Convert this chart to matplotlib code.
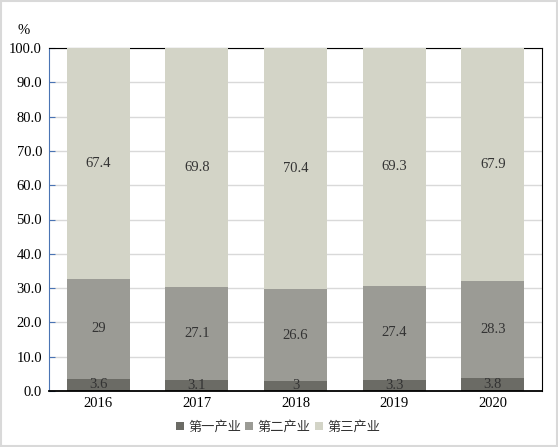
import numpy as np
import matplotlib.pyplot as plt
from matplotlib.patches import Rectangle

years = ['2016', '2017', '2018', '2019', '2020']
primary = [3.6, 3.1, 3, 3.3, 3.8]
secondary = [29, 27.1, 26.6, 27.4, 28.3]
tertiary = [67.4, 69.8, 70.4, 69.3, 67.9]
series_names = ['第一产业', '第二产业', '第三产业']
yticks = [0, 10, 20, 30, 40, 50, 60, 70, 80, 90, 100]

colors = ['#6b6b65', '#9b9b95', '#d3d4c7']
num_font = 'Liberation Serif'
cjk_font = ['Noto Sans CJK SC', 'DejaVu Sans']

fig = plt.figure(figsize=(5.58, 4.47), dpi=100)
ax = fig.add_axes([49 / 558, 1 - 391 / 447, 493 / 558, 343 / 447])

x = np.arange(len(years))
width = 0.64
bottom = np.zeros(len(years))
bars = []
for vals, col, name in zip([primary, secondary, tertiary], colors, series_names):
    b = ax.bar(x, vals, width, bottom=bottom, color=col, label=name, zorder=3)
    bars.append(b)
    # 값 라벨은 각 구간 가운데
    for xi, v, b0 in zip(x, vals, bottom):
        ax.text(xi, b0 + v / 2, f"{v:g}", ha='center', va='center',
                fontsize=10.5, family=num_font, color='#333333', zorder=4)
    bottom = bottom + np.array(vals)

ax.set_xlim(-0.5, len(years) - 0.5)
ax.set_ylim(0, 100)
ax.set_yticks(yticks)
ax.set_yticklabels([f"{t:.1f}" for t in yticks], family=num_font, fontsize=10.5)
ax.set_xticks(x)
ax.set_xticklabels(years, family=num_font, fontsize=10.5)
ax.tick_params(axis='x', length=0, pad=4)
ax.tick_params(axis='y', direction='in', length=4, color='#4a74b4', pad=5)
ax.grid(True, axis='y', color='#d9d9d9', linewidth=1, zorder=0)

ax.spines['left'].set_color('#4a74b4')
for s in ['top', 'right', 'bottom']:
    ax.spines[s].set_color('black')
ax.spines['bottom'].set_linewidth(1.3)
ax.spines['bottom'].set_zorder(5)

fig.text(18 / 558, 1 - 30 / 447, '%', family=num_font, fontsize=10.5, va='center')

leg = fig.legend(handles=bars, labels=series_names, loc='center',
                 bbox_to_anchor=(278 / 558, 1 - 427 / 447), ncol=3,
                 frameon=False, prop={'family': cjk_font, 'size': 9.5},
                 handlelength=0.6, handleheight=0.6, handletextpad=0.35,
                 columnspacing=0.3)
for t in leg.get_texts():
    t.set_color('#333333')

fig.patches.append(Rectangle((0.002, 0.002), 0.996, 0.996, transform=fig.transFigure,
                             fill=False, edgecolor='#d9d9d9', linewidth=1.5))

fig.savefig('out.png', dpi=100)
